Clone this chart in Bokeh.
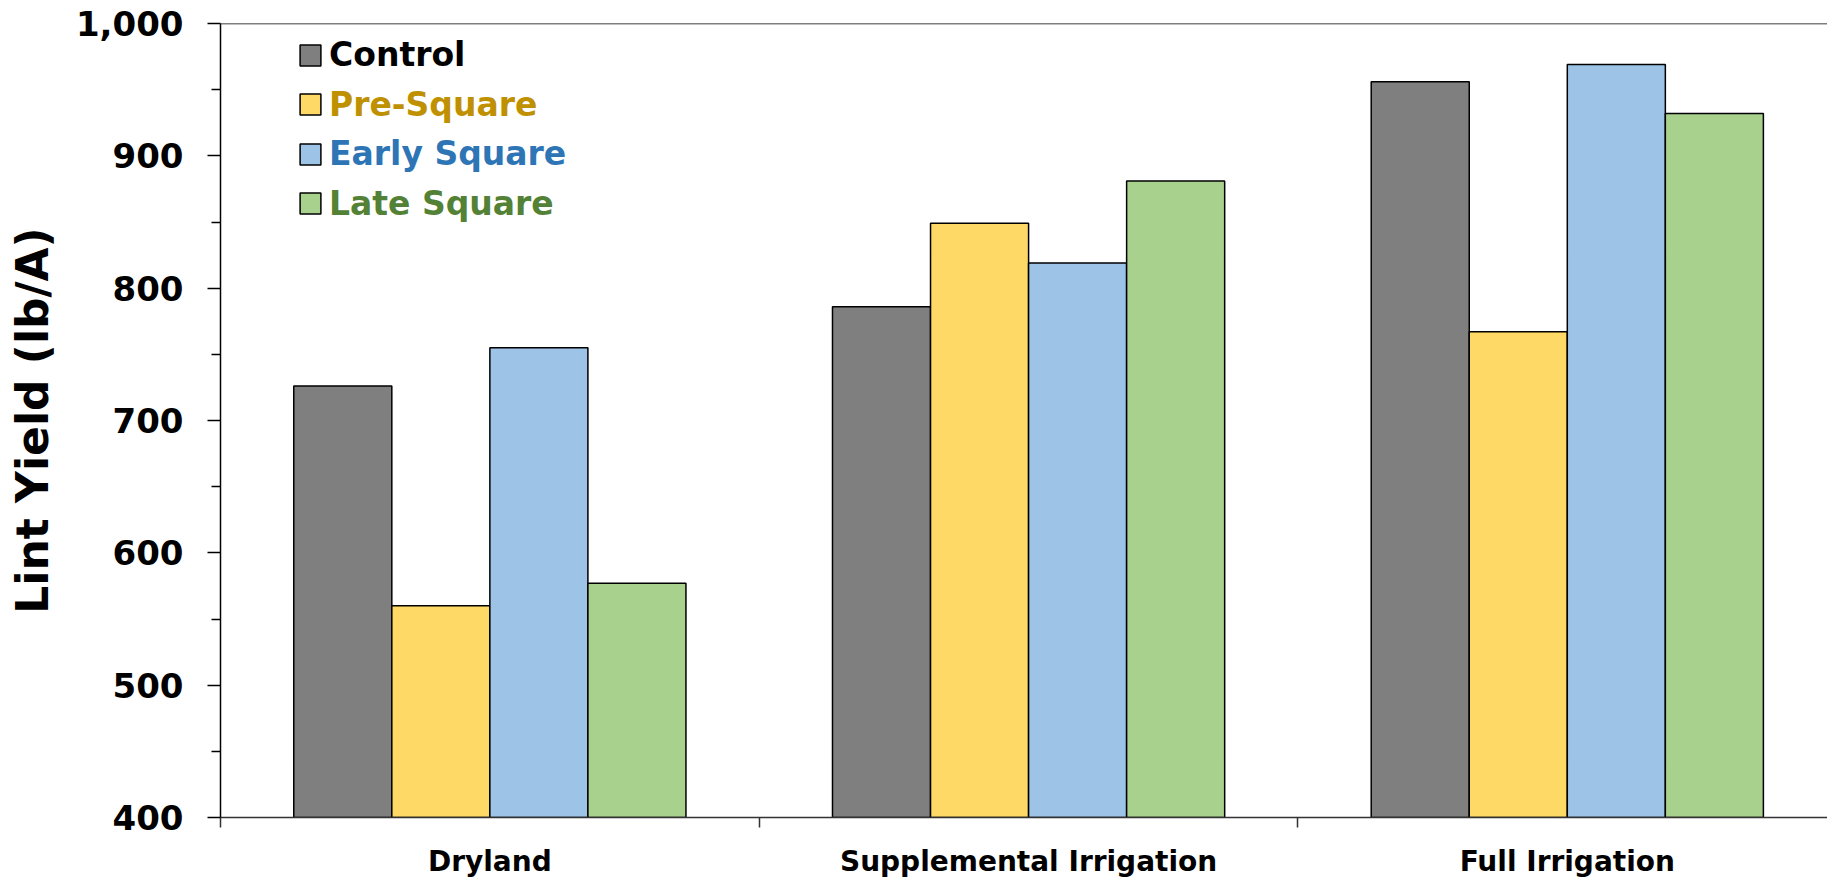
from bokeh.plotting import figure
from bokeh.models import (ColumnDataSource, Range1d, FixedTicker, NumeralTickFormatter,
                          Legend, LegendItem, Span)
from bokeh.transform import dodge
from bokeh.embed import file_html
from bokeh.resources import INLINE

# Lint yield (lb/A) by irrigation level and treatment timing
categories = ["Dryland", "Supplemental Irrigation", "Full Irrigation"]
treatments = ["Control", "Pre-Square", "Early Square", "Late Square"]
control = [726, 786, 956]
pre_square = [560, 849, 767]
early_square = [755, 819, 969]
late_square = [577, 881, 932]
y_ticks = [400, 500, 600, 700, 800, 900, 1000]

fill_colors = ["#7F7F7F", "#FFD966", "#9DC3E6", "#A9D18E"]
text_colors = ["#000000", "#BF9000", "#2E75B6", "#538135"]

FONT = "DejaVu Sans"
BAR_W = 0.182

source = ColumnDataSource(data=dict(
    x=[i + 0.5 for i in range(len(categories))],
    control=control,
    pre_square=pre_square,
    early_square=early_square,
    late_square=late_square,
))
series_cols = ["control", "pre_square", "early_square", "late_square"]

p = figure(
    width=1827, height=880,
    x_range=Range1d(0, 2.983), y_range=Range1d(y_ticks[0], y_ticks[-1]),
    output_backend="svg", toolbar_location=None,
    min_border_left=220, min_border_right=0, min_border_top=23, min_border_bottom=62,
)
p.outline_line_color = None
p.grid.visible = False
p.background_fill_color = "white"
p.border_fill_color = "white"

renderers = []
for k, col in enumerate(series_cols):
    r = p.vbar(x=dodge("x", (k - 1.5) * BAR_W, range=p.x_range), top=col, bottom=y_ticks[0],
               width=BAR_W, source=source, fill_color=fill_colors[k],
               line_color="black", line_width=1.5)
    renderers.append(r)

# top frame line
p.add_layout(Span(location=y_ticks[-1], dimension="width", line_color="black", line_width=1.5))

# y axis
ya = p.yaxis[0]
ya.ticker = FixedTicker(ticks=y_ticks, minor_ticks=[v + 50 for v in y_ticks[:-1]])
ya.formatter = NumeralTickFormatter(format="0,0")
ya.axis_line_color = "black"
ya.axis_line_width = 1.5
ya.major_tick_line_color = "black"
ya.major_tick_line_width = 1.5
ya.major_tick_out = 13
ya.major_tick_in = 0
ya.minor_tick_line_color = "black"
ya.minor_tick_line_width = 1.5
ya.minor_tick_out = 9
ya.minor_tick_in = 0
ya.major_label_text_font = FONT
ya.major_label_text_font_style = "bold"
ya.major_label_text_font_size = "34px"
ya.major_label_text_color = "black"
ya.major_label_standoff = 24
ya.axis_label = "Lint Yield (lb/A)"
ya.axis_label_text_font = FONT
ya.axis_label_text_font_style = "bold"
ya.axis_label_text_font_size = "44px"
ya.axis_label_text_color = "black"
ya.axis_label_standoff = 15

# x axis: category names centred, boundary ticks between groups
xa = p.xaxis[0]
xa.ticker = FixedTicker(ticks=[i + 0.5 for i in range(len(categories))],
                        minor_ticks=list(range(len(categories) + 1)))
xa.major_label_overrides = {i + 0.5: c for i, c in enumerate(categories)}
xa.axis_line_color = "#333333"
xa.axis_line_width = 1.5
xa.major_tick_out = 0
xa.major_tick_in = 0
xa.major_tick_line_color = None
xa.minor_tick_line_color = "#333333"
xa.minor_tick_line_width = 1.5
xa.minor_tick_out = 10
xa.minor_tick_in = 0
xa.major_label_text_font = FONT
xa.major_label_text_font_style = "bold"
xa.major_label_text_font_size = "28px"
xa.major_label_text_color = "black"
xa.major_label_standoff = 17

# one legend per treatment so each label keeps its own colour
row_gap = 49.5
for k, (name, r) in enumerate(zip(treatments, renderers)):
    lg = Legend(
        items=[LegendItem(label=name, renderers=[r])],
        location=(77, 743 - k * row_gap),
        padding=0, margin=0, spacing=0,
        border_line_color=None, background_fill_alpha=0,
        glyph_width=26, glyph_height=26, label_standoff=6,
        label_text_font=FONT, label_text_font_style="bold",
        label_text_font_size="33px", label_text_color=text_colors[k],
    )
    p.add_layout(lg, "center")

open("out.html", "w").write(file_html(p, INLINE))
